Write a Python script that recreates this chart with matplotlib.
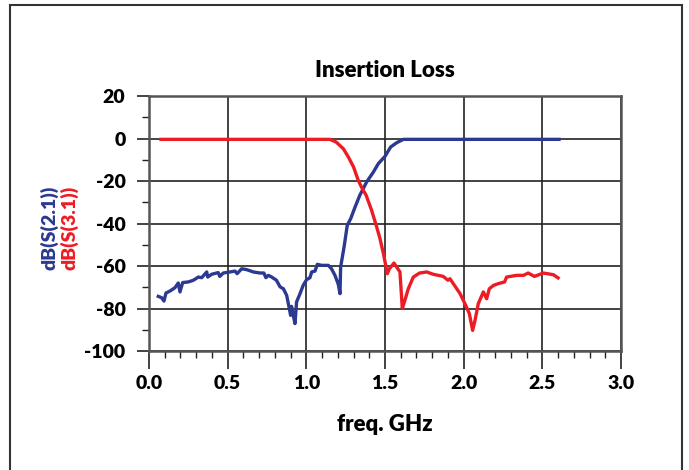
import matplotlib
matplotlib.use("Agg")
import matplotlib.pyplot as plt
from matplotlib.patches import Rectangle
from matplotlib.ticker import MultipleLocator

plt.rcParams["axes.unicode_minus"] = False
FONT = ["Lato", "DejaVu Sans"]
WEIGHT = "heavy"
BLUE = "#2b3990"
RED = "#ed1c24"

# dB(S(2.1)) - blue trace
s21_freq = [0.059, 0.08, 0.095, 0.108, 0.133, 0.165, 0.186, 0.197, 0.214, 0.25,
            0.282, 0.314, 0.335, 0.367, 0.373, 0.398, 0.44, 0.45, 0.472, 0.515,
            0.547, 0.56, 0.589, 0.62, 0.663, 0.705, 0.73, 0.743, 0.758, 0.78,
            0.81, 0.833, 0.854, 0.875, 0.89, 0.90, 0.906, 0.917, 0.928, 0.938,
            0.96, 0.98, 1.002, 1.023, 1.034, 1.055, 1.07, 1.097, 1.14, 1.16,
            1.182, 1.203, 1.214, 1.218, 1.24, 1.26, 1.282, 1.31, 1.34, 1.383,
            1.426, 1.458, 1.50, 1.536, 1.574, 1.617, 2.606]
s21_db = [-74.3, -74.9, -76.5, -72.7, -71.8, -70.2, -68.0, -72.2, -67.8, -67.5,
          -66.7, -65.2, -65.5, -62.8, -65.2, -63.9, -63.1, -64.9, -63.3, -62.8,
          -62.4, -63.6, -61.3, -61.7, -62.8, -63.3, -63.3, -65.5, -64.4, -65.2,
          -66.7, -69.8, -70.7, -73.8, -79.3, -83.2, -79.0, -83.2, -87.1, -76.9,
          -73.0, -69.1, -66.4, -65.5, -62.8, -62.4, -59.2, -59.7, -59.7, -61.3,
          -64.4, -68.6, -73.0, -60.5, -51.0, -40.9, -37.7, -32.2, -26.7, -20.5,
          -15.8, -11.8, -8.4, -4.0, -2.0, -0.4, -0.4]

# dB(S(3.1)) - red trace
s31_freq = [0.076, 1.15, 1.19, 1.235, 1.267, 1.30, 1.33, 1.35, 1.38, 1.415,
            1.447, 1.468, 1.49, 1.515, 1.528, 1.557, 1.595, 1.61, 1.627, 1.648,
            1.68, 1.72, 1.765, 1.807, 1.87, 1.90, 1.913, 1.934, 1.977, 2.008,
            2.036, 2.057, 2.072, 2.093, 2.125, 2.146, 2.163, 2.19, 2.22, 2.26,
            2.273, 2.337, 2.38, 2.41, 2.45, 2.506, 2.57, 2.60]
s31_db = [-0.4, -0.4, -1.7, -4.8, -8.7, -13.4, -19.7, -22.8, -26.7, -33.8,
          -41.6, -47.1, -54.2, -63.6, -61.3, -58.6, -62.8, -80.0, -76.0, -70.7,
          -65.2, -63.3, -62.8, -63.9, -64.9, -66.7, -66.0, -68.3, -73.0, -77.7,
          -82.4, -90.3, -85.6, -77.7, -72.2, -75.4, -70.7, -69.1, -68.3, -67.5,
          -65.2, -64.4, -64.4, -63.3, -64.9, -63.3, -64.1, -65.6]

fig = plt.figure(figsize=(6.89, 4.70), dpi=100)
ax = fig.add_axes([149 / 689, 119 / 470, 472 / 689, 255 / 470])

# outer frame around the whole chart
fig.patches.append(Rectangle((10 / 689, -0.05), 672 / 689, 1.05 - 5 / 470,
                             transform=fig.transFigure, fill=False,
                             edgecolor="#333333", linewidth=1.5))

ax.plot(s21_freq, s21_db, color=BLUE, linewidth=2.4, solid_joinstyle="round")
ax.plot(s31_freq, s31_db, color=RED, linewidth=2.4, solid_joinstyle="round")

ax.set_xlim(0, 3.0)
ax.set_ylim(-100, 20)
ax.xaxis.set_major_locator(MultipleLocator(0.5))
ax.xaxis.set_minor_locator(MultipleLocator(0.1))
ax.yaxis.set_major_locator(MultipleLocator(20))
ax.yaxis.set_minor_locator(MultipleLocator(10))
ax.grid(True, which="major", color="#222222", linewidth=1.2)

ax.tick_params(which="major", direction="out", length=9, width=1.2, color="#222222", pad=8)
ax.tick_params(which="minor", direction="out", length=5, width=1.0, color="#222222")
ax.tick_params(axis="x", which="major", length=13, pad=4)
for s in ax.spines.values():
    s.set_color("#555555")
    s.set_linewidth(1.8)

ax.set_xticks([0, 0.5, 1.0, 1.5, 2.0, 2.5, 3.0])
ax.set_xticklabels(["0.0", "0.5", "1.0", "1.5", "2.0", "2.5", "3.0"])
for lab in ax.get_xticklabels() + ax.get_yticklabels():
    lab.set_family(FONT)
    lab.set_fontweight(WEIGHT)
    lab.set_fontsize(14)

ax.set_title("Insertion Loss", family=FONT, fontweight=WEIGHT, fontsize=16, pad=14)
ax.set_xlabel("freq. GHz", family=FONT, fontweight=WEIGHT, fontsize=16, labelpad=16)

fig.text(49 / 689, 1 - 228 / 470, "dB(S(2.1))", rotation=90, color=BLUE,
         family=FONT, fontweight=WEIGHT, fontsize=14, ha="center", va="center")
fig.text(69 / 689, 1 - 228 / 470, "dB(S(3.1))", rotation=90, color=RED,
         family=FONT, fontweight=WEIGHT, fontsize=14, ha="center", va="center")

fig.savefig("out.png", dpi=100)
